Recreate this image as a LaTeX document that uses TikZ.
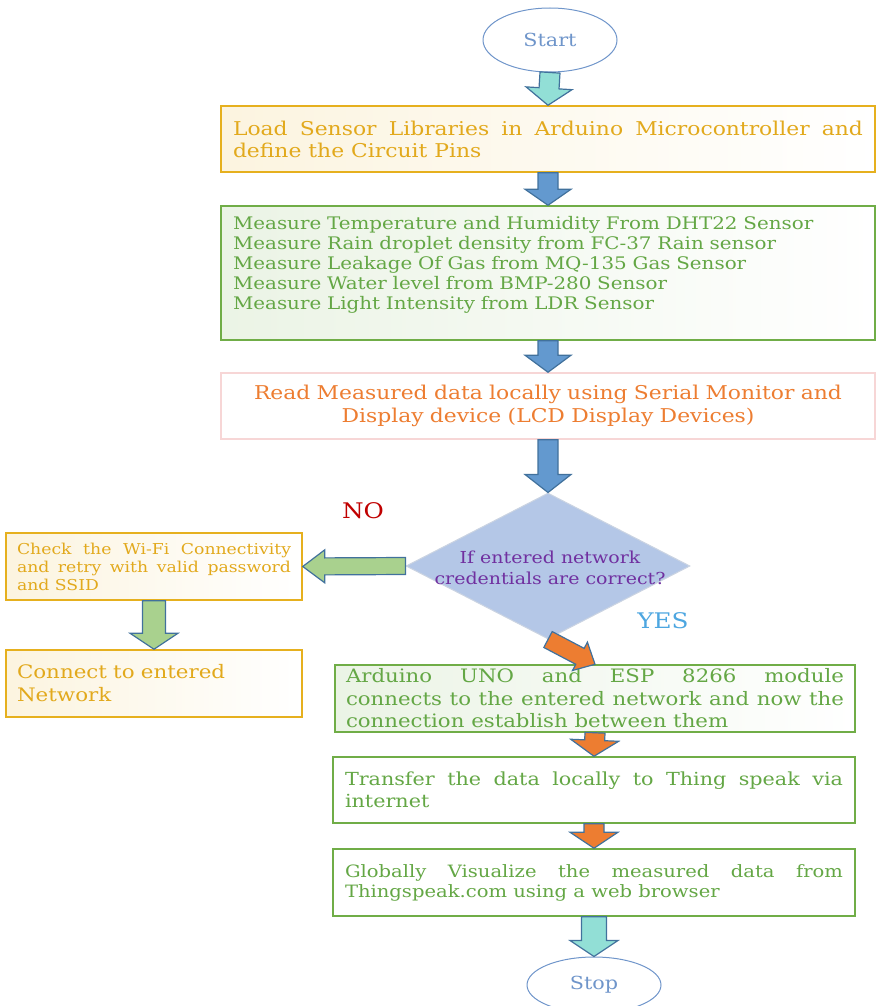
\documentclass[tikz,border=0pt]{standalone}
\usepackage{fontspec}
\setmainfont{DejaVu Serif}[FakeStretch=1.15]
\usetikzlibrary{calc,shapes.geometric}

\definecolor{termblue}{HTML}{6F95CA}
\definecolor{arrowedge}{HTML}{41719C}
\definecolor{arrowblue}{HTML}{6399CF}
\definecolor{arrowteal}{HTML}{92DFD6}
\definecolor{arrowgreen}{HTML}{A9D18E}
\definecolor{arroworange}{HTML}{ED7D31}
\definecolor{gold}{HTML}{E6B01E}
\definecolor{goldtext}{HTML}{E2A91C}
\definecolor{leaf}{HTML}{70AD47}
\definecolor{leaftext}{HTML}{64A745}
\definecolor{blush}{HTML}{F7D6D6}
\definecolor{rust}{HTML}{ED7D31}
\definecolor{decfill}{HTML}{B4C7E7}
\definecolor{decedge}{HTML}{CBD4E2}
\definecolor{plum}{HTML}{7030A0}
\definecolor{nored}{HTML}{C00000}
\definecolor{yesblue}{HTML}{4DA6E0}

\hyphenpenalty=10000

% block arrow: fill, tail, tip, half shaft, half head, head length
\newcommand{\fatarrow}[6]{%
  \coordinate (hb) at ($(#3)!#6!(#2)$);
  \filldraw[fatarrow, fill=#1] ($(#2)!#4!90:(#3)$) -- ($(hb)!#4!90:(#3)$)
    -- ($(hb)!#5!90:(#3)$) -- (#3) -- ($(hb)!#5!-90:(#3)$)
    -- ($(hb)!#4!-90:(#3)$) -- ($(#2)!#4!-90:(#3)$) -- cycle;
}

\tikzset{
  terminal/.style={ellipse, draw=termblue, line width=1pt, text=termblue,
    minimum width=134pt, minimum height=64pt, font=\fontsize{18}{22}\selectfont},
  box/.style={rectangle, line width=1.5pt, inner xsep=11pt, inner ysep=0pt,
    minimum height=66pt},
  wide/.style={box, minimum width=654pt, text width=630pt},
  goldbox/.style={draw=gold, text=goldtext, left color=gold!14, right color=white},
  leafbox/.style={draw=leaf, text=leaftext, left color=leaf!14, right color=white},
  plainleaf/.style={draw=leaf, text=leaftext, fill=white},
  decision/.style={diamond, draw=decedge, fill=decfill, line width=1pt,
    minimum width=284pt, minimum height=146pt, inner sep=0pt},
  fatarrow/.style={draw=arrowedge, line width=1.2pt, line join=miter},
}

\begin{document}
\begin{tikzpicture}[x=1pt, y=-1pt]
\useasboundingbox (0,0) rectangle (876,1006);

% main column
\node[terminal] (start) at (550,40) {Start};
\node[wide, goldbox, align=justify, font=\fontsize{19}{22}\selectfont] (load) at (548,139)
  {Load Sensor Libraries in Arduino Microcontroller and\linebreak define the Circuit Pins};
\node[wide, leafbox, minimum height=134pt, align=left, font=\fontsize{17.3}{20}\selectfont] (measure) at (548,273)
  {Measure Temperature and Humidity From DHT22 Sensor\\
   Measure Rain droplet density from FC-37 Rain sensor\\
   Measure Leakage Of Gas from MQ-135 Gas Sensor\\
   Measure Water level from BMP-280 Sensor\\
   Measure Light Intensity from LDR Sensor\\ \mbox{}};
\node[wide, draw=blush, text=rust, fill=white, align=center, font=\fontsize{19}{23}\selectfont] (read) at (548,406)
  {Read Measured data locally using Serial Monitor and\\ Display device (LCD Display Devices)};
\node[decision] (cond) at (548,566) {};
\node[text=plum, align=center, font=\fontsize{16.5}{21}\selectfont] (condtext) at (550,568)
  {If entered network\\ credentials are correct?};
\node[text=nored, font=\fontsize{21.5}{24}\selectfont] (no) at (363,511) {NO};
\node[text=yesblue, font=\fontsize{21.5}{24}\selectfont] (yes) at (663,621) {YES};

% retry branch
\node[box, goldbox, minimum width=294pt, minimum height=67pt, text width=274pt, align=justify,
  font=\fontsize{15}{18}\selectfont] (check) at (154,566.5)
  {Check the Wi-Fi Connectivity\linebreak and retry with valid password\linebreak and SSID};
\node[box, goldbox, minimum width=294pt, minimum height=67pt, text width=274pt, align=left,
  font=\fontsize{18.6}{23}\selectfont] (connect) at (154,683.5)
  {Connect to entered\\ Network};

% success branch
\node[box, leafbox, minimum width=520pt, minimum height=67pt, text width=498pt, align=justify,
  font=\fontsize{18.5}{22.5}\selectfont] (link) at (595,698.5)
  {Arduino UNO and ESP 8266 module\linebreak connects to the entered network and now the\linebreak connection establish between them};
\node[box, plainleaf, minimum width=522pt, text width=498pt, align=justify,
  font=\fontsize{18}{22}\selectfont] (upload) at (594,790)
  {Transfer the data locally to Thing speak via\linebreak internet};
\node[box, plainleaf, minimum width=522pt, minimum height=67pt, text width=498pt, align=justify,
  font=\fontsize{17}{20}\selectfont] (visual) at (594,882.5)
  {Globally Visualize the measured data from\linebreak Thingspeak.com using a web browser};
\node[terminal, minimum height=56pt] (stop) at (594,985) {Stop};

% block arrows
\fatarrow{arrowteal}{start.south}{load.north}{10pt}{23pt}{17pt}
\fatarrow{arrowblue}{load.south}{measure.north}{10pt}{23pt}{16pt}
\fatarrow{arrowblue}{measure.south}{read.north}{10pt}{23pt}{17pt}
\fatarrow{arrowblue}{read.south}{cond.north}{10pt}{23pt}{18pt}
\fatarrow{arrowgreen}{cond.west}{check.east}{8.5pt}{16.5pt}{22pt}
\fatarrow{arrowgreen}{check.south}{connect.north}{11.5pt}{24pt}{16pt}
\fatarrow{arroworange}{cond.south}{link.north}{9pt}{16pt}{17pt}
\fatarrow{arroworange}{link.south}{upload.north}{10pt}{24pt}{16pt}
\fatarrow{arroworange}{upload.south}{visual.north}{10pt}{24pt}{16pt}
\fatarrow{arrowteal}{visual.south}{stop.north}{12.5pt}{24pt}{16pt}
\end{tikzpicture}
\end{document}
